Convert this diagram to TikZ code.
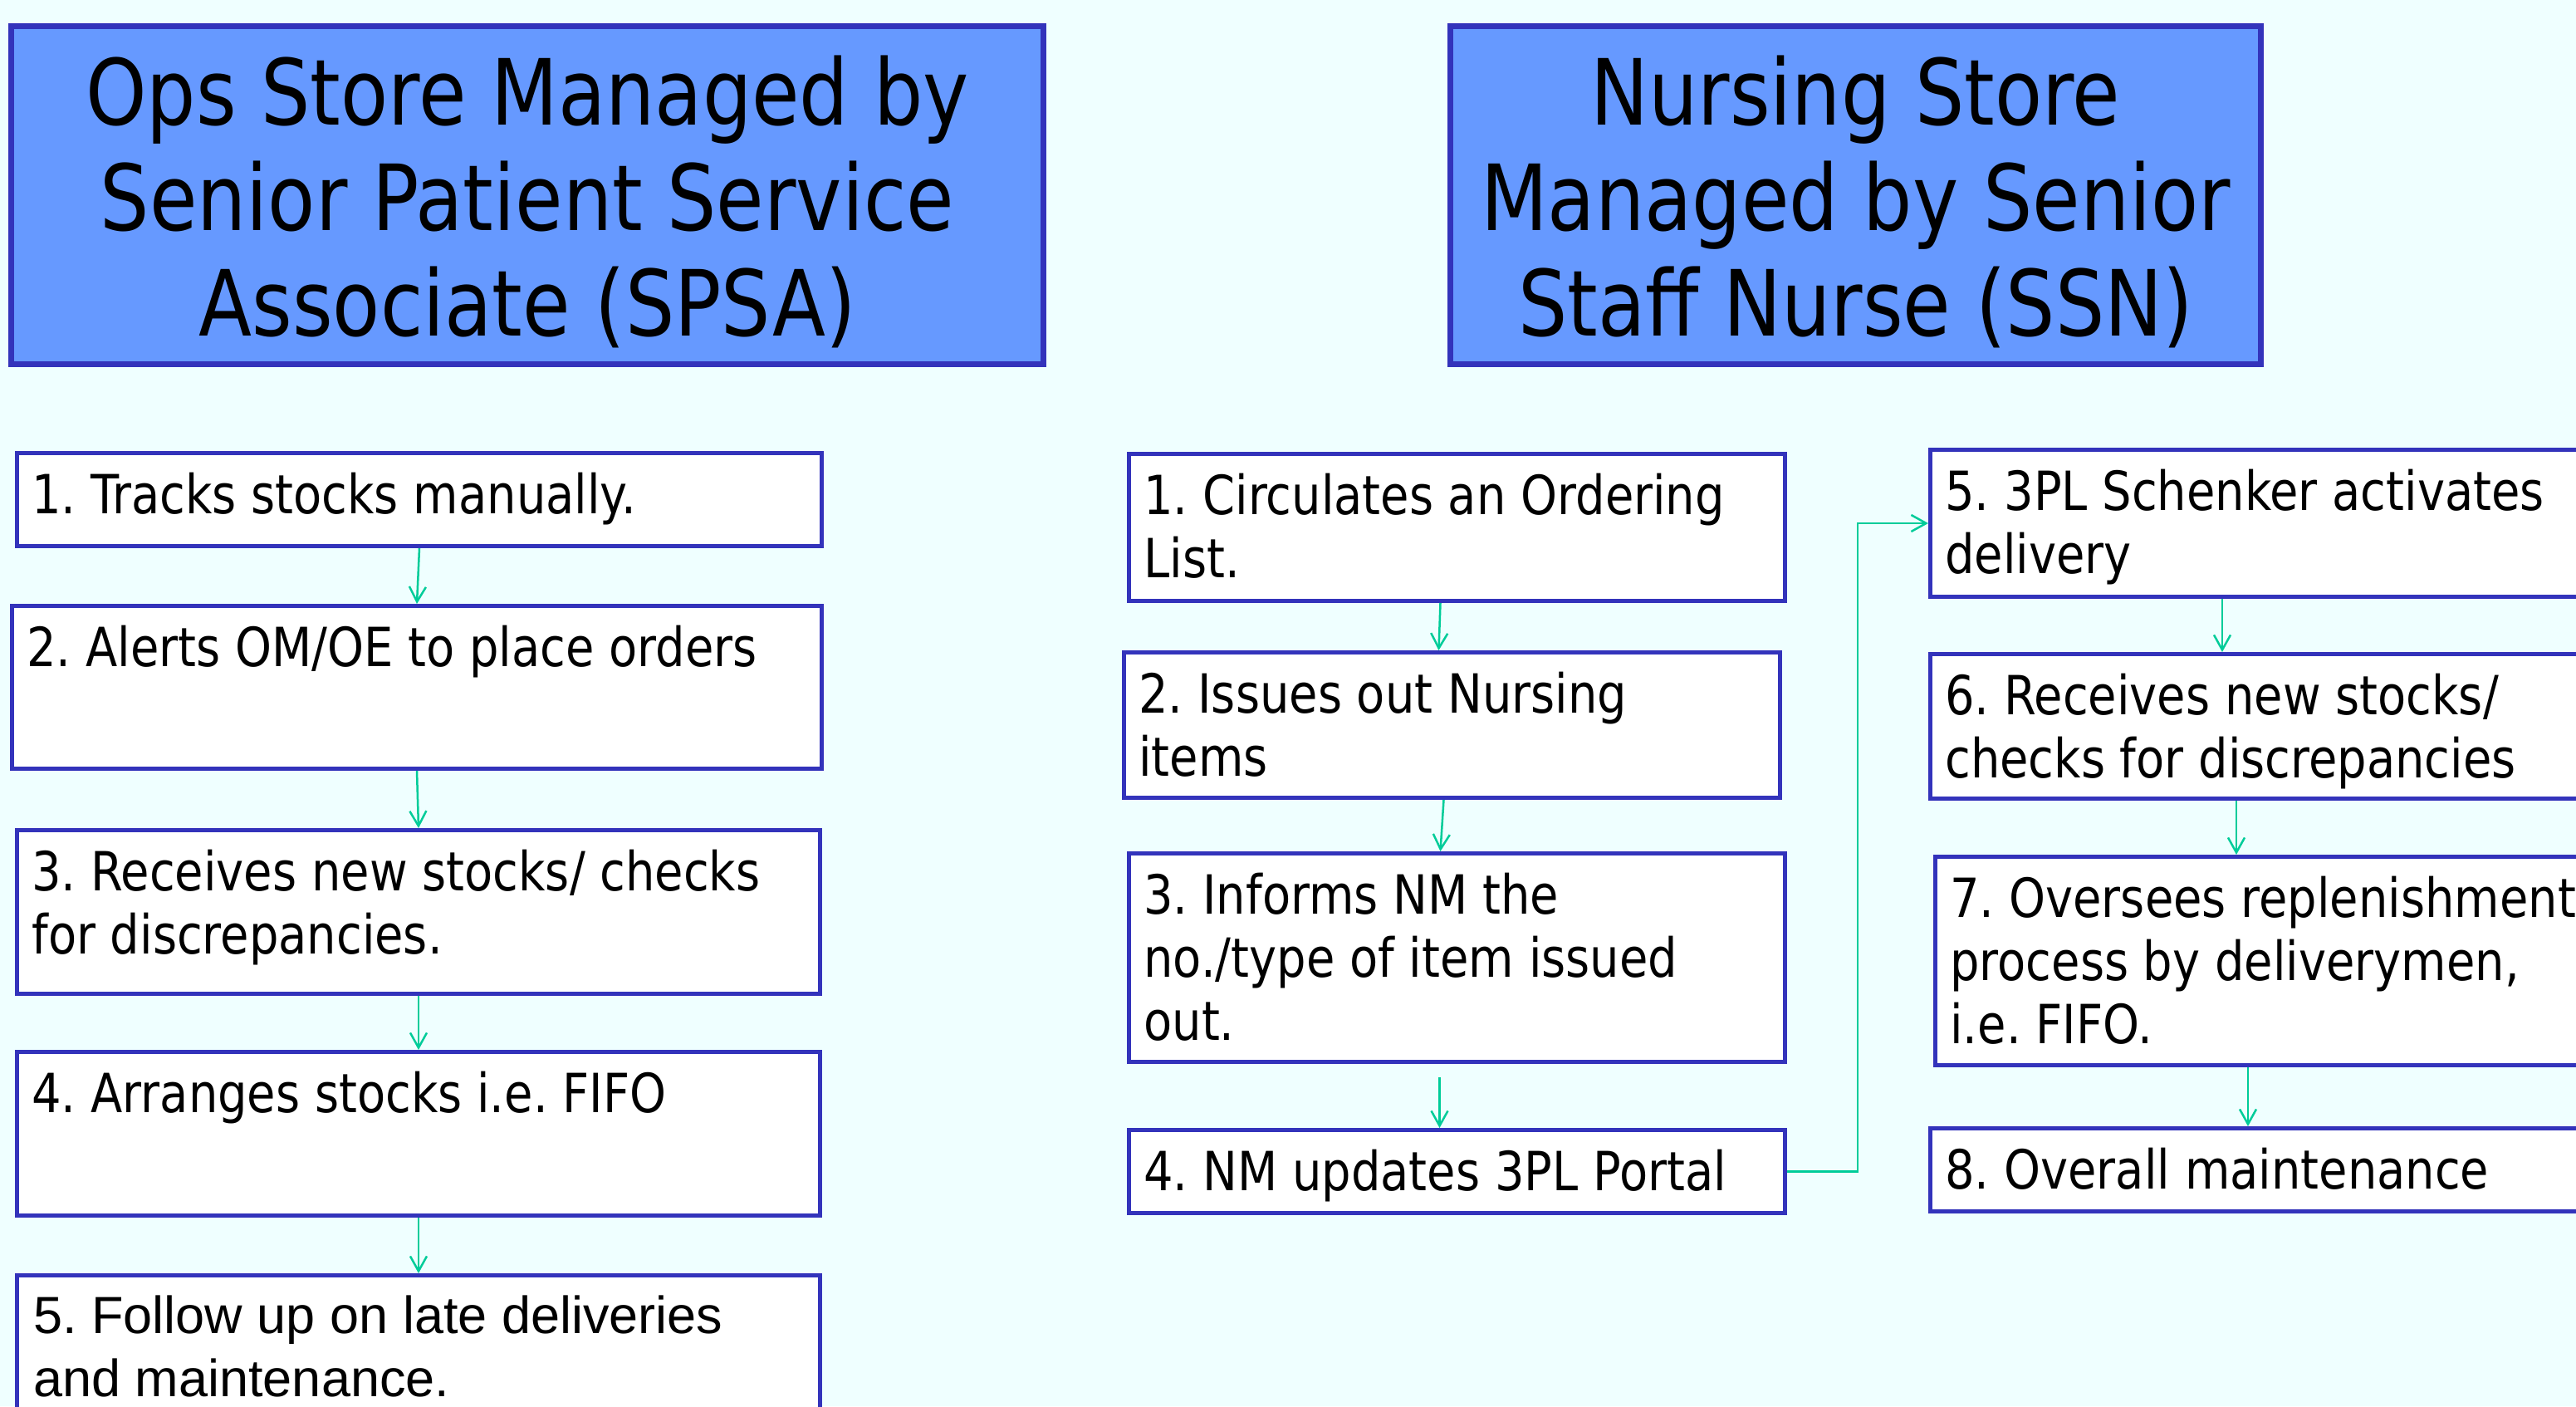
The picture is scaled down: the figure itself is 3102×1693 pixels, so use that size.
\documentclass[tikz,border=0pt]{standalone}
\usepackage{fontspec}
\setmainfont{DejaVu Sans}
\newfontfamily\bodyfont[FakeStretch=0.86]{DejaVu Sans}
\newfontfamily\headfont[FakeStretch=0.85]{DejaVu Sans}
\newfontfamily\arialfont{Liberation Sans}
\usetikzlibrary{arrows.meta}
\definecolor{bgc}{HTML}{EFFFFF}
\definecolor{hdfill}{HTML}{6699FF}
\definecolor{bord}{HTML}{3333BB}
\definecolor{arrowc}{HTML}{00CC99}
\tikzset{
 stepbox/.style={draw=bord, line width=2.5pt, fill=white, anchor=north west, inner sep=0pt},
 headbox/.style={draw=bord, line width=3.5pt, fill=hdfill, anchor=north west, inner sep=0pt,
   align=center, font=\headfont\fontsize{55pt}{63.5pt}\selectfont\frenchspacing},
 steptext/.style={anchor=north west, inner sep=0pt, align=left,
   font=\bodyfont\fontsize{32.5pt}{38pt}\selectfont\frenchspacing},
 arialtext/.style={anchor=north west, inner sep=0pt, align=left,
   font=\arialfont\fontsize{31.5pt}{38pt}\selectfont\frenchspacing},
 flow/.style={draw=arrowc, line width=1.25pt, -{Straight Barb[length=9pt,width=10pt]}},
}
\begin{document}
\begin{tikzpicture}[x=0.5pt,y=-0.5pt]
\path[use as bounding box, fill=bgc] (0,0) rectangle (3102,1693);
\clip (0,0) rectangle (3102,1693);

% headers
\node[headbox, minimum width=621.5pt, minimum height=203.5pt] (h1) at (10,28)
  {\rule{0pt}{50pt}Ops Store Managed by\\Senior Patient Service\\Associate (SPSA)};
\node[headbox, minimum width=488pt, minimum height=203.5pt] (h2) at (1743,28)
  {\rule{0pt}{50pt}Nursing Store\\Managed by Senior\\Staff Nurse (SSN)};

% left column
\node[stepbox, minimum width=484.5pt, minimum height=56pt] (l1) at (18,543) {};
\node[stepbox, minimum width=487.5pt, minimum height=98pt] (l2) at (12,727) {};
\node[stepbox, minimum width=483.5pt, minimum height=98.5pt] (l3) at (18,997) {};
\node[stepbox, minimum width=483.5pt, minimum height=98.5pt] (l4) at (18,1264) {};
\node[stepbox, minimum width=483.5pt, minimum height=122.5pt] (l5) at (18,1533) {};

\node[steptext] (l1t) at ([shift={(10pt,-13pt)}]l1.north west) {1. Tracks stocks manually.};
\node[steptext] (l2t) at ([shift={(10pt,-13pt)}]l2.north west) {2. Alerts OM/OE to place orders};
\node[steptext] (l3t) at ([shift={(10pt,-13pt)}]l3.north west) {3. Receives new stocks/ checks\\for discrepancies.};
\node[steptext] (l4t) at ([shift={(10pt,-13pt)}]l4.north west) {4. Arranges stocks i.e. FIFO};
\node[arialtext] (l5t) at ([shift={(11pt,-13pt)}]l5.north west) {5. Follow up on late deliveries\\and maintenance.};

% middle column
\node[stepbox, minimum width=395pt, minimum height=88.5pt] (m1) at (1357,544) {};
\node[stepbox, minimum width=395pt, minimum height=87.5pt] (m2) at (1351,783) {};
\node[stepbox, minimum width=395pt, minimum height=125.5pt] (m3) at (1357,1025) {};
\node[stepbox, minimum width=395pt, minimum height=50pt] (m4) at (1357,1358) {};

\node[steptext] (m1t) at ([shift={(10pt,-13pt)}]m1.north west) {1. Circulates an Ordering\\List.};
\node[steptext] (m2t) at ([shift={(10pt,-13pt)}]m2.north west) {2. Issues out Nursing\\items};
\node[steptext] (m3t) at ([shift={(10pt,-13pt)}]m3.north west) {3. Informs NM the\\no./type of item issued\\out.};
\node[steptext] (m4t) at ([shift={(10pt,-13pt)}]m4.north west) {4. NM updates 3PL Portal};

% right column
\node[stepbox, minimum width=447.5pt, minimum height=88.5pt] (r5) at (2322,539) {};
\node[stepbox, minimum width=447.5pt, minimum height=87pt] (r6) at (2322,785) {};
\node[stepbox, minimum width=447.5pt, minimum height=125.5pt] (r7) at (2328,1029) {};
\node[stepbox, minimum width=447.5pt, minimum height=50pt] (r8) at (2322,1356) {};

\node[steptext] (r5t) at ([shift={(10pt,-13pt)}]r5.north west) {5. 3PL Schenker activates\\delivery};
\node[steptext] (r6t) at ([shift={(10pt,-13pt)}]r6.north west) {6. Receives new stocks/\\checks for discrepancies};
\node[steptext] (r7t) at ([shift={(10pt,-13pt)}]r7.north west) {7. Oversees replenishment\\process by deliverymen,\\i.e. FIFO.};
\node[steptext] (r8t) at ([shift={(10pt,-13pt)}]r8.north west) {8. Overall maintenance};

% connectors
\draw[flow] (l1.south) -- (l2.north);
\draw[flow] (l2.south) -- (l3.north);
\draw[flow] (l3.south) -- (l4.north);
\draw[flow] (l4.south) -- (l5.north);

\draw[flow] ([xshift=-10pt]m1.south) -- ([xshift=-8pt]m2.north);
\draw[flow] ([xshift=-5pt]m2.south) -- ([xshift=-10pt]m3.north);
\draw[flow] ([xshift=-10.5pt,yshift=-8pt]m3.south) -- ([xshift=-10.5pt]m4.north);

\draw[flow] (m4.east) -- ++(85,0) |- (r5.west);

\draw[flow] ([xshift=177pt]r5.south west) -- ([xshift=177pt]r6.north west);
\draw[flow] ([xshift=185.5pt]r6.south west) -- ([xshift=182.5pt]r7.north west);
\draw[flow] ([xshift=189.5pt]r7.south west) -- ([xshift=192.5pt]r8.north west);
\end{tikzpicture}
\end{document}
